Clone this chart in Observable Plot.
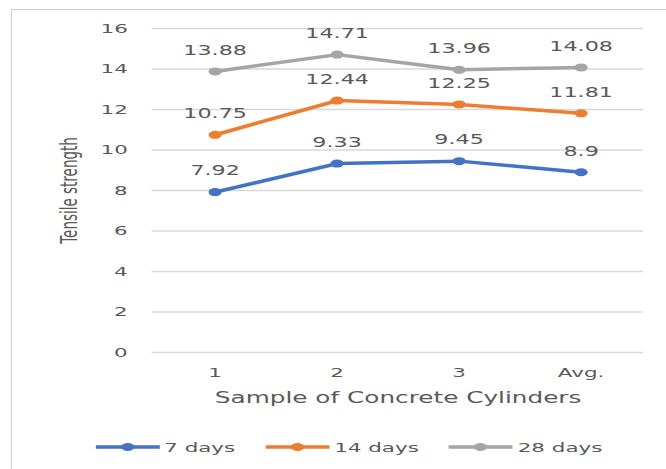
<!DOCTYPE html>
<html>
<head>
<meta charset="utf-8">
<script src="https://cdn.jsdelivr.net/npm/d3@7"></script>
<script src="https://cdn.jsdelivr.net/npm/@observablehq/plot@0.6"></script>
<style>
  html, body { margin: 0; padding: 0; background: #fff; overflow: hidden; }
  #frame { position: absolute; left: 11px; top: 9px; width: 720px; height: 520px; border: 1px solid #d0d0d0; box-sizing: border-box; }
  #wrap { position: absolute; left: 0; top: 0; width: 404px; height: 469px; transform: scaleX(1.6485); transform-origin: 0 0; font-family: "DejaVu Sans", sans-serif; }
  #legend { position: absolute; left: 57.6px; top: 437px; height: 20px; display: flex; align-items: center; gap: 18px; font-size: 13px; color: #595959; }
  .item { display: flex; align-items: center; gap: 3px; }
</style>
</head>
<body>
<div id="frame"></div>
<div id="wrap">
  <div id="chart"></div>
  <div id="legend"></div>
</div>
<script>
const categories = ["1", "2", "3", "Avg."];
const days7 = [7.92, 9.33, 9.45, 8.9];
const days14 = [10.75, 12.44, 12.25, 11.81];
const days28 = [13.88, 14.71, 13.96, 14.08];
const seriesNames = ["7 days", "14 days", "28 days"];
const seriesColors = ["#4472C4", "#ED7D31", "#A5A5A5"];
const yTicks = [0, 2, 4, 6, 8, 10, 12, 14, 16];
const xTitle = "Sample of Concrete Cylinders";
const yTitle = "Tensile strength";

const seriesValues = [days7, days14, days28];
const data = [];
seriesNames.forEach((s, i) => {
  categories.forEach((c, j) => data.push({series: s, cat: c, value: seriesValues[i][j]}));
});

const chart = Plot.plot({
  width: 404,
  height: 425,
  marginTop: 28,
  marginBottom: 73,
  marginLeft: 92,
  marginRight: 14,
  style: {fontFamily: "DejaVu Sans", fontSize: "13px", color: "#595959", background: "transparent"},
  x: {type: "point", domain: categories, padding: 0.5},
  y: {domain: [0, 16]},
  color: {domain: seriesNames, range: seriesColors},
  marks: [
    Plot.ruleY(yTicks, {stroke: "#d9d9d9", strokeWidth: 1.3}),
    Plot.axisY(yTicks, {tickSize: 0, tickPadding: 15, label: null, fill: "#595959"}),
    Plot.axisX({tickSize: 0, tickPadding: 15, label: null, fill: "#595959"}),
    Plot.text([yTitle], {frameAnchor: "left", rotate: -90, dx: -50, text: d => d, fontSize: 13.5, fill: "#595959", textAnchor: "middle", lineAnchor: "middle"}),
    Plot.text([xTitle], {frameAnchor: "bottom", dy: 46, text: d => d, fontSize: 15, fill: "#595959", textAnchor: "middle", lineAnchor: "middle"}),
    Plot.line(data, {x: "cat", y: "value", z: "series", stroke: "series", strokeWidth: 3.5}),
    Plot.dot(data, {x: "cat", y: "value", fill: "series", r: 4}),
    Plot.text(data, {x: "cat", y: "value", text: d => String(d.value), dy: -21, fontSize: 13.5, fill: "#595959"})
  ]
});
document.getElementById("chart").appendChild(chart);

const legend = document.getElementById("legend");
seriesNames.forEach((s, i) => {
  const item = document.createElement("div");
  item.className = "item";
  item.innerHTML = `<svg width="39" height="12"><line x1="0" x2="39" y1="6" y2="6" stroke="${seriesColors[i]}" stroke-width="3.5"/><circle cx="19.5" cy="6" r="4" fill="${seriesColors[i]}"/></svg><span>${s}</span>`;
  legend.appendChild(item);
});
</script>
</body>
</html>
